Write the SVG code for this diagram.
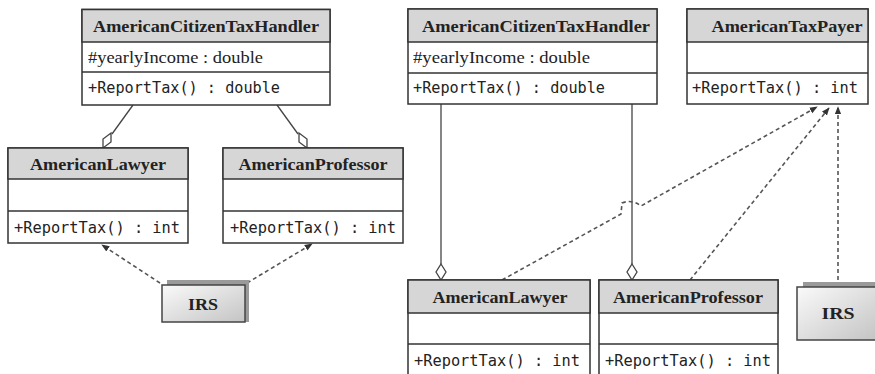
<svg xmlns="http://www.w3.org/2000/svg" width="875" height="374" viewBox="0 0 875 374">
<style>
.box{fill:#fff;stroke:#333;stroke-width:1.5}
.hdr{fill:#d6d6d6;stroke:#333;stroke-width:1.5}
.sep{stroke:#333;stroke-width:1.5}
.name{font-family:"Liberation Serif",serif;font-weight:bold;font-size:17px;fill:#222;text-anchor:middle}
.attr{font-family:"Liberation Serif",serif;font-size:17px;fill:#222}
.meth{font-family:"DejaVu Sans Mono","Liberation Mono",monospace;font-size:16px;fill:#222}
.solid{fill:none;stroke:#444;stroke-width:1.3}
.dash{fill:none;stroke:#555;stroke-width:1.6;stroke-dasharray:4 3}
.dia{fill:#fff;stroke:#444;stroke-width:1.3}
.irs{fill:url(#g);stroke:#444;stroke-width:1.5}
.irsb{fill:#9a9a9a}
</style>
<defs>
<linearGradient id="g" x1="0" y1="0" x2="1" y2="1">
<stop offset="0" stop-color="#fafafa"/>
<stop offset="1" stop-color="#c4c4c4"/>
</linearGradient>
<marker id="arr" viewBox="0 0 10 10" refX="9" refY="5" markerWidth="8" markerHeight="8" orient="auto-start-reverse" markerUnits="userSpaceOnUse">
<path d="M0,1 L10,5 L0,9 Z" fill="#333"/>
</marker>
</defs>

<g id="connectors">
<line class="solid" x1="133" y1="105" x2="112" y2="134"/>
<path class="dia" d="M103,148 L103,139 L111,133 L111,142 Z"/>
<line class="solid" x1="277" y1="105" x2="298" y2="134"/>
<path class="dia" d="M307,148 L307,139 L299,133 L299,142 Z"/>
<line class="dash" x1="160" y1="283" x2="102" y2="245" marker-end="url(#arr)"/>
<line class="dash" x1="247" y1="283" x2="312" y2="244" marker-end="url(#arr)"/>
<line class="solid" x1="441" y1="104" x2="441" y2="264"/>
<path class="dia" d="M441,264 L446,272 L441,280 L436,272 Z"/>
<line class="solid" x1="632" y1="104" x2="632" y2="264"/>
<path class="dia" d="M632,264 L637,272 L632,280 L627,272 Z"/>
<path class="dash" d="M502,280 L621,214 L622,203 Q632,199 641,206 L817,107" marker-end="url(#arr)"/>
<line class="dash" x1="690" y1="280" x2="829" y2="108" marker-end="url(#arr)"/>
<line class="dash" x1="838" y1="287" x2="838" y2="107" marker-end="url(#arr)"/>
</g>

<g id="left-handler">
<rect class="box" x="82" y="9.5" width="248" height="95.5"/>
<rect class="hdr" x="82" y="9.5" width="248" height="32.5"/>
<line class="sep" x1="82" y1="72" x2="330" y2="72"/>
<text class="name" x="206" y="32" textLength="226" lengthAdjust="spacingAndGlyphs">AmericanCitizenTaxHandler</text>
<text class="attr" x="88" y="63" textLength="175" lengthAdjust="spacingAndGlyphs">#yearlyIncome : double</text>
<text class="meth" x="88" y="93" textLength="192" lengthAdjust="spacingAndGlyphs">+ReportTax() : double</text>
</g>

<g id="left-lawyer">
<rect class="box" x="8" y="148" width="180" height="95"/>
<rect class="hdr" x="8" y="148" width="180" height="31"/>
<line class="sep" x1="8" y1="211" x2="188" y2="211"/>
<text class="name" x="98" y="170" textLength="136" lengthAdjust="spacingAndGlyphs">AmericanLawyer</text>
<text class="meth" x="14" y="233" textLength="166" lengthAdjust="spacingAndGlyphs">+ReportTax() : int</text>
</g>

<g id="left-professor">
<rect class="box" x="223" y="148" width="180" height="95"/>
<rect class="hdr" x="223" y="148" width="180" height="31"/>
<line class="sep" x1="223" y1="211" x2="403" y2="211"/>
<text class="name" x="313" y="170" textLength="149" lengthAdjust="spacingAndGlyphs">AmericanProfessor</text>
<text class="meth" x="230" y="233" textLength="166" lengthAdjust="spacingAndGlyphs">+ReportTax() : int</text>
</g>

<g id="left-irs">
<rect class="irsb" x="167" y="280" width="82" height="42"/>
<rect class="irs" x="162" y="285" width="83" height="37"/>
<text class="name" x="203" y="310" textLength="30" lengthAdjust="spacingAndGlyphs">IRS</text>
</g>

<g id="right-handler">
<rect class="box" x="408" y="9" width="249" height="95"/>
<rect class="hdr" x="408" y="9" width="249" height="33"/>
<line class="sep" x1="408" y1="73" x2="657" y2="73"/>
<text class="name" x="536" y="32" textLength="228" lengthAdjust="spacingAndGlyphs">AmericanCitizenTaxHandler</text>
<text class="attr" x="413" y="63" textLength="177" lengthAdjust="spacingAndGlyphs">#yearlyIncome : double</text>
<text class="meth" x="413" y="93" textLength="192" lengthAdjust="spacingAndGlyphs">+ReportTax() : double</text>
</g>

<g id="right-taxpayer">
<rect class="box" x="687" y="9" width="181" height="95"/>
<rect class="hdr" x="687" y="9" width="181" height="33"/>
<line class="sep" x1="687" y1="73" x2="868" y2="73"/>
<text class="name" x="787" y="32" textLength="151" lengthAdjust="spacingAndGlyphs">AmericanTaxPayer</text>
<text class="meth" x="692" y="93" textLength="166" lengthAdjust="spacingAndGlyphs">+ReportTax() : int</text>
</g>

<g id="right-lawyer">
<rect class="box" x="408" y="280" width="182" height="100"/>
<rect class="hdr" x="408" y="280" width="182" height="33"/>
<line class="sep" x1="408" y1="344" x2="590" y2="344"/>
<text class="name" x="500" y="303" textLength="135" lengthAdjust="spacingAndGlyphs">AmericanLawyer</text>
<text class="meth" x="414" y="366" textLength="166" lengthAdjust="spacingAndGlyphs">+ReportTax() : int</text>
</g>

<g id="right-professor">
<rect class="box" x="599" y="280" width="179" height="100"/>
<rect class="hdr" x="599" y="280" width="179" height="33"/>
<line class="sep" x1="599" y1="344" x2="778" y2="344"/>
<text class="name" x="688" y="303" textLength="150" lengthAdjust="spacingAndGlyphs">AmericanProfessor</text>
<text class="meth" x="605" y="366" textLength="166" lengthAdjust="spacingAndGlyphs">+ReportTax() : int</text>
</g>

<g id="right-irs">
<rect class="irsb" x="803" y="282" width="74" height="50"/>
<rect class="irs" x="797" y="287" width="80" height="53"/>
<text class="name" x="838" y="319" textLength="33" lengthAdjust="spacingAndGlyphs">IRS</text>
</g>
</svg>
